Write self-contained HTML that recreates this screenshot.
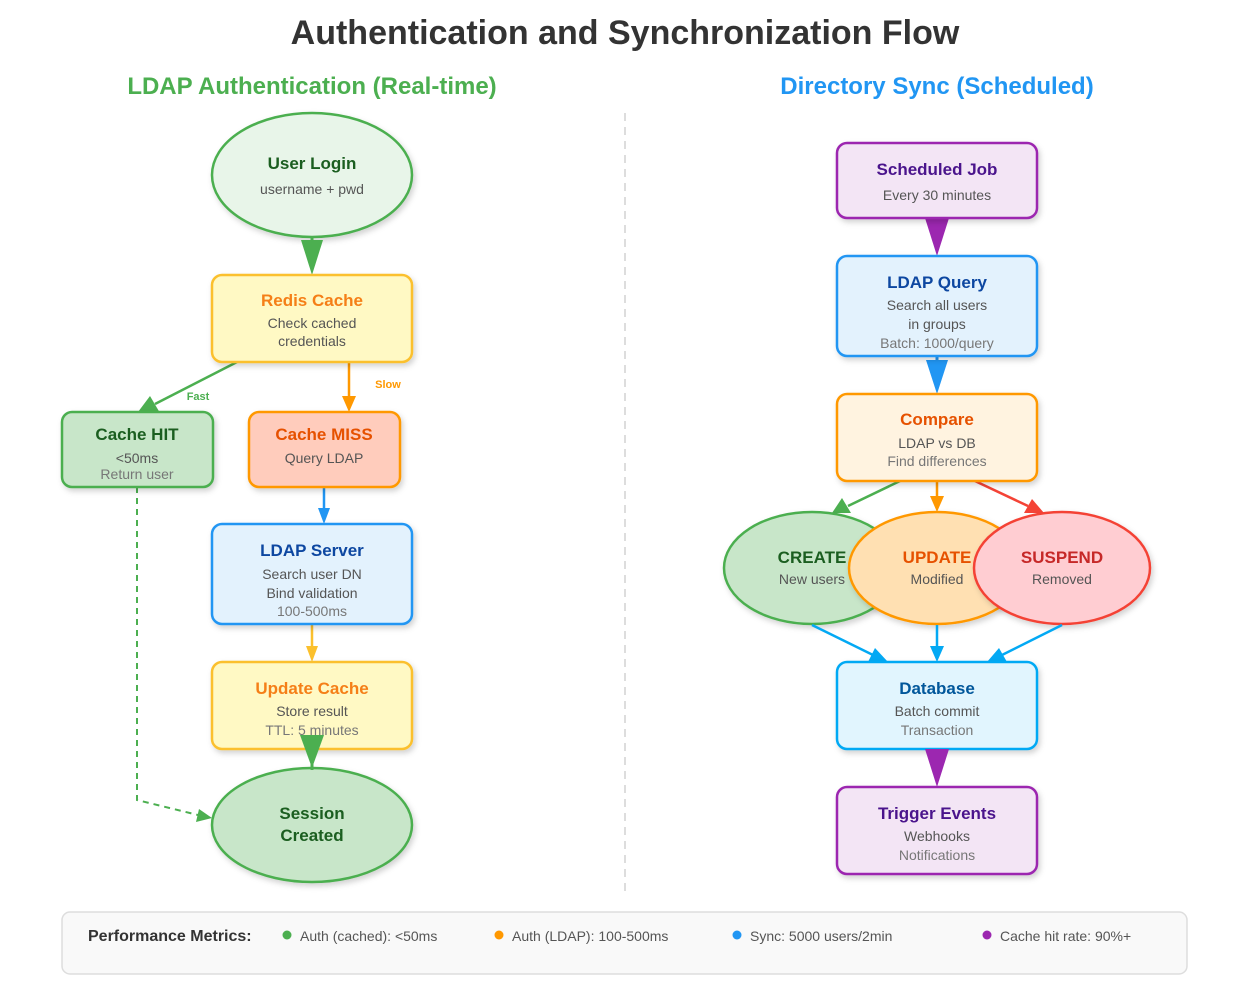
<!DOCTYPE html>
<html><head><meta charset="utf-8"><style>
html,body{margin:0;padding:0;background:#fff;}
svg{display:block;font-family:"Liberation Sans",sans-serif;}
.t{font-weight:bold;font-size:17px;text-anchor:middle;}
.s{font-size:14px;fill:#555;text-anchor:middle;}
.g{font-size:14px;fill:#777;text-anchor:middle;}
</style></head><body>
<svg width="1250" height="1000" viewBox="0 0 1250 1000" xmlns="http://www.w3.org/2000/svg">
<defs>
<filter id="sh" x="-20%" y="-20%" width="140%" height="150%"><feDropShadow dx="2" dy="3" stdDeviation="3" flood-color="#000" flood-opacity="0.18"/></filter>
</defs>
<text x="625" y="44" text-anchor="middle" font-size="34" font-weight="bold" fill="#333">Authentication and Synchronization Flow</text>
<text x="312" y="94" text-anchor="middle" font-size="24" font-weight="bold" fill="#4caf50">LDAP Authentication (Real-time)</text>
<text x="937" y="94" text-anchor="middle" font-size="24" font-weight="bold" fill="#2196f3">Directory Sync (Scheduled)</text>
<line x1="625" y1="113" x2="625" y2="893" stroke="#ddd" stroke-width="2" stroke-dasharray="8,6"/>

<!-- Left connectors -->
<polyline points="137,487 137,800 198,815" fill="none" stroke="#4caf50" stroke-width="2" stroke-dasharray="6,5"/>
<polygon points="212,818 196,822 199,809" fill="#4caf50"/>
<line x1="237" y1="362" x2="155" y2="404" stroke="#4caf50" stroke-width="2.5"/>
<polygon points="138,412 150,396 160,413" fill="#4caf50"/>
<text x="198" y="400" text-anchor="middle" font-size="11" font-weight="bold" fill="#4caf50">Fast</text>
<line x1="349" y1="362" x2="349" y2="396" stroke="#ff9800" stroke-width="2.5"/>
<polygon points="342,396 356,396 349,412" fill="#ff9800"/>
<text x="388" y="388" text-anchor="middle" font-size="11" font-weight="bold" fill="#ff9800">Slow</text>
<line x1="324" y1="487" x2="324" y2="510" stroke="#2196f3" stroke-width="2.5"/>
<polygon points="318,508 330,508 324,524" fill="#2196f3"/>
<line x1="312" y1="624" x2="312" y2="648" stroke="#fbc02d" stroke-width="2.5"/>
<polygon points="306,646 318,646 312,662" fill="#fbc02d"/>

<!-- Right connectors -->
<polygon points="925,218 949,218 937,256" fill="#9c27b0"/>
<line x1="937" y1="356" x2="937" y2="375" stroke="#2196f3" stroke-width="3"/>
<polygon points="926,360 948,360 937,394" fill="#2196f3"/>
<line x1="900" y1="481" x2="848" y2="506" stroke="#4caf50" stroke-width="2.5"/>
<polygon points="832,513 842,498 851,513" fill="#4caf50"/>
<line x1="937" y1="481" x2="937" y2="498" stroke="#ff9800" stroke-width="2.5"/>
<polygon points="930,496 944,496 937,512" fill="#ff9800"/>
<line x1="975" y1="481" x2="1028" y2="506" stroke="#f44336" stroke-width="2.5"/>
<polygon points="1044,513 1024,513 1032,499" fill="#f44336"/>

<!-- Left nodes -->
<ellipse cx="312" cy="175" rx="100" ry="62" fill="#e8f5e9" stroke="#4caf50" stroke-width="2.5" filter="url(#sh)"/>
<text x="312" y="169" class="t" fill="#1b5e20">User Login</text>
<text x="312" y="194" class="s">username + pwd</text>
<line x1="312" y1="237" x2="312" y2="250" stroke="#4caf50" stroke-width="3"/>
<polygon points="301,240 323,240 312,275" fill="#4caf50"/>

<rect x="212" y="275" width="200" height="87" rx="10" fill="#fff9c4" stroke="#fbc02d" stroke-width="2.5" filter="url(#sh)"/>
<text x="312" y="306" class="t" fill="#f57f17">Redis Cache</text>
<text x="312" y="328" class="s">Check cached</text>
<text x="312" y="346" class="s">credentials</text>

<rect x="62" y="412" width="151" height="75" rx="10" fill="#c8e6c9" stroke="#4caf50" stroke-width="2.5" filter="url(#sh)"/>
<text x="137" y="440" class="t" font-size="16" fill="#1b5e20">Cache HIT</text>
<text x="137" y="463" class="s">&lt;50ms</text>
<text x="137" y="479" class="g">Return user</text>

<rect x="249" y="412" width="151" height="75" rx="10" fill="#ffccbc" stroke="#ff9800" stroke-width="2.5" filter="url(#sh)"/>
<text x="324" y="440" class="t" font-size="16" fill="#e65100">Cache MISS</text>
<text x="324" y="463" class="s">Query LDAP</text>

<rect x="212" y="524" width="200" height="100" rx="10" fill="#e3f2fd" stroke="#2196f3" stroke-width="2.5" filter="url(#sh)"/>
<text x="312" y="556" class="t" fill="#0d47a1">LDAP Server</text>
<text x="312" y="579" class="s" font-size="13">Search user DN</text>
<text x="312" y="598" class="s" font-size="13">Bind validation</text>
<text x="312" y="616" class="g">100-500ms</text>

<rect x="212" y="662" width="200" height="87" rx="10" fill="#fff9c4" stroke="#fbc02d" stroke-width="2.5" filter="url(#sh)"/>
<text x="312" y="694" class="t" fill="#f57f17">Update Cache</text>
<text x="312" y="716" class="s" font-size="13">Store result</text>
<text x="312" y="735" class="g" font-size="12">TTL: 5 minutes</text>

<ellipse cx="312" cy="825" rx="100" ry="57" fill="#c8e6c9" stroke="#4caf50" stroke-width="2.5" filter="url(#sh)"/>
<text x="312" y="819" class="t" fill="#1b5e20">Session</text>
<text x="312" y="841" class="t" fill="#1b5e20">Created</text>
<polygon points="300,735 324,735 312,768" fill="#4caf50"/>
<line x1="312" y1="760" x2="312" y2="770" stroke="#4caf50" stroke-width="3"/>

<!-- Right nodes -->
<rect x="837" y="143" width="200" height="75" rx="10" fill="#f3e5f5" stroke="#9c27b0" stroke-width="2.5" filter="url(#sh)"/>
<text x="937" y="175" class="t" fill="#4a148c">Scheduled Job</text>
<text x="937" y="200" class="s" font-size="13">Every 30 minutes</text>

<rect x="837" y="256" width="200" height="100" rx="10" fill="#e3f2fd" stroke="#2196f3" stroke-width="2.5" filter="url(#sh)"/>
<text x="937" y="288" class="t" fill="#0d47a1">LDAP Query</text>
<text x="937" y="310" class="s">Search all users</text>
<text x="937" y="329" class="s">in groups</text>
<text x="937" y="348" class="g">Batch: 1000/query</text>

<rect x="837" y="394" width="200" height="87" rx="10" fill="#fff3e0" stroke="#ff9800" stroke-width="2.5" filter="url(#sh)"/>
<text x="937" y="425" class="t" fill="#e65100">Compare</text>
<text x="937" y="448" class="s" font-size="13">LDAP vs DB</text>
<text x="937" y="466" class="g">Find differences</text>

<ellipse cx="812" cy="568" rx="88" ry="56" fill="#c8e6c9" stroke="#4caf50" stroke-width="2.5" filter="url(#sh)"/>
<ellipse cx="937" cy="568" rx="88" ry="56" fill="#ffe0b2" stroke="#ff9800" stroke-width="2.5" filter="url(#sh)"/>
<ellipse cx="1062" cy="568" rx="88" ry="56" fill="#ffcdd2" stroke="#f44336" stroke-width="2.5" filter="url(#sh)"/>
<text x="812" y="563" class="t" font-size="15" fill="#1b5e20">CREATE</text>
<text x="812" y="584" class="s" font-size="12">New users</text>
<text x="937" y="563" class="t" font-size="15" fill="#e65100">UPDATE</text>
<text x="937" y="584" class="s" font-size="13">Modified</text>
<text x="1062" y="563" class="t" font-size="15" fill="#c62828">SUSPEND</text>
<text x="1062" y="584" class="s">Removed</text>

<line x1="812" y1="625" x2="873" y2="655" stroke="#03a9f4" stroke-width="2.5"/>
<polygon points="888,662 868,662 875,648" fill="#03a9f4"/>
<line x1="937" y1="625" x2="937" y2="648" stroke="#03a9f4" stroke-width="2.5"/>
<polygon points="930,646 944,646 937,662" fill="#03a9f4"/>
<line x1="1062" y1="625" x2="1002" y2="655" stroke="#03a9f4" stroke-width="2.5"/>
<polygon points="987,662 999,648 1007,662" fill="#03a9f4"/>

<rect x="837" y="662" width="200" height="87" rx="10" fill="#e1f5fe" stroke="#03a9f4" stroke-width="2.5" filter="url(#sh)"/>
<text x="937" y="694" class="t" fill="#01579b">Database</text>
<text x="937" y="716" class="s" font-size="13">Batch commit</text>
<text x="937" y="735" class="g">Transaction</text>
<polygon points="925,749 949,749 937,787" fill="#9c27b0"/>

<rect x="837" y="787" width="200" height="87" rx="10" fill="#f3e5f5" stroke="#9c27b0" stroke-width="2.5" filter="url(#sh)"/>
<text x="937" y="819" class="t" fill="#4a148c">Trigger Events</text>
<text x="937" y="841" class="s" font-size="13">Webhooks</text>
<text x="937" y="860" class="g">Notifications</text>

<!-- Footer -->
<rect x="62" y="912" width="1125" height="62" rx="8" fill="#f9f9f9" stroke="#ddd" stroke-width="1.5"/>
<text x="88" y="941" font-size="16" font-weight="bold" fill="#333">Performance Metrics:</text>
<circle cx="287" cy="935" r="4.5" fill="#4caf50"/>
<text x="300" y="941" font-size="14" fill="#555">Auth (cached): &lt;50ms</text>
<circle cx="499" cy="935" r="4.5" fill="#ff9800"/>
<text x="512" y="941" font-size="14" fill="#555">Auth (LDAP): 100-500ms</text>
<circle cx="737" cy="935" r="4.5" fill="#2196f3"/>
<text x="750" y="941" font-size="14" fill="#555">Sync: 5000 users/2min</text>
<circle cx="987" cy="935" r="4.5" fill="#9c27b0"/>
<text x="1000" y="941" font-size="14" fill="#555">Cache hit rate: 90%+</text>
</svg>
</body></html>
